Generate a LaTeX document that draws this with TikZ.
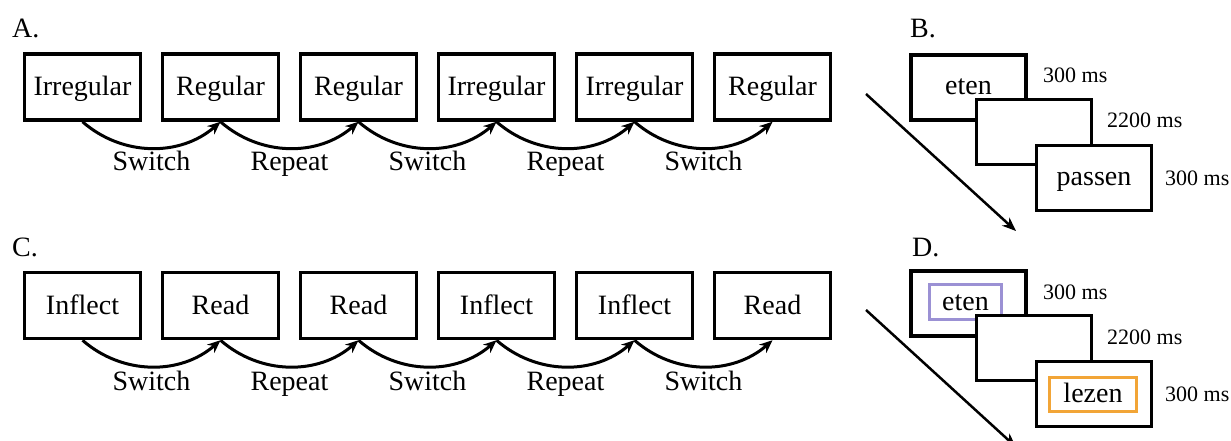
\documentclass[tikz,border=0pt]{standalone}
\usepackage{fontspec}
\setmainfont{Liberation Serif}
\usetikzlibrary{arrows.meta}
\definecolor{cuepurple}{RGB}{155,145,212}
\definecolor{cueorange}{RGB}{242,165,55}
\newcommand\bigfont{\fontsize{28}{34}\selectfont}
\newcommand\msfont{\fontsize{22}{26}\selectfont}
\begin{document}
\begin{tikzpicture}[x=1pt,y=-1pt,
  trial/.style={draw,line width=3.5pt,minimum width=116pt,minimum height=66pt,inner sep=0pt,text height=18pt,text depth=0pt,font=\bigfont},
  screen/.style={draw,fill=white,line width=3.5pt,minimum width=115pt,minimum height=65pt,inner sep=0pt,text height=14.5pt,text depth=0pt,font=\bigfont},
  cue/.style={draw,line width=3.5pt,inner sep=0pt,text height=16pt,text depth=0pt,font=\bigfont},
  trans/.style={anchor=base,inner sep=0pt,font=\bigfont},
  panel/.style={anchor=base west,inner sep=0pt,font=\bigfont},
  dur/.style={anchor=base west,inner sep=0pt,font=\msfont},
  arr/.style={line width=3pt,-{Stealth[length=13pt,width=11pt]}},
  timeline/.style={line width=2.5pt,-{Stealth[length=14pt,width=11pt]}}]
\useasboundingbox[fill=white] (0,0) rectangle (1231,441);

% Panel labels
\node[panel] (lA) at (12,38) {A.};
\node[panel] (lB) at (910,38) {B.};
\node[panel] (lC) at (12,256) {C.};
\node[panel] (lD) at (912,256) {D.};

% Row A
\node[trial] (a1) at (82.5,87) {Irregular};
\node[trial] (a2) at (220.5,87) {Regular};
\node[trial] (a3) at (358.5,87) {Regular};
\node[trial] (a4) at (496.5,87) {Irregular};
\node[trial] (a5) at (634.5,87) {Irregular};
\node[trial] (a6) at (772.5,87) {Regular};
\foreach \i/\j in {1/2,2/3,3/4,4/5,5/6}
  \draw[arr] (a\i.south) .. controls +(40,35) and +(-40,35) .. (a\j.south);
\node[trans] (ta1) at (151.5,171) {Switch};
\node[trans] (ta2) at (289.5,171) {Repeat};
\node[trans] (ta3) at (427.5,171) {Switch};
\node[trans] (ta4) at (565.5,171) {Repeat};
\node[trans] (ta5) at (703.5,171) {Switch};

% Row C
\node[trial] (c1) at (82.5,305.5) {Inflect};
\node[trial] (c2) at (220.5,305.5) {Read};
\node[trial] (c3) at (358.5,305.5) {Read};
\node[trial] (c4) at (496.5,305.5) {Inflect};
\node[trial] (c5) at (634.5,305.5) {Inflect};
\node[trial] (c6) at (772.5,305.5) {Read};
\foreach \i/\j in {1/2,2/3,3/4,4/5,5/6}
  \draw[arr] (c\i.south) .. controls +(40,35) and +(-40,35) .. (c\j.south);
\node[trans] (tc1) at (151.5,390) {Switch};
\node[trans] (tc2) at (289.5,390) {Repeat};
\node[trans] (tc3) at (427.5,390) {Switch};
\node[trans] (tc4) at (565.5,390) {Repeat};
\node[trans] (tc5) at (703.5,390) {Switch};

% Panel B
\coordinate (bs) at (866,94);
\coordinate (be) at (1016,231);
\draw[timeline] (bs) -- (be);
\node[screen] (b1) at (968.5,87.5) {eten};
\node[screen] (b2) at (1034,132) {};
\node[screen] (b3) at (1094,178) {passen};
\node[dur] (db1) at (1043,83) {300 ms};
\node[dur] (db2) at (1107,128) {2200 ms};
\node[dur] (db3) at (1165,185) {300 ms};

% Panel D
\coordinate (ds) at (866,310);
\coordinate (de) at (1016,447);
\draw[timeline] (ds) -- (de);
\node[screen] (d1) at (968.5,303.5) {};
\node[cue,draw=cuepurple,minimum width=72pt,minimum height=35pt] (p1) at (965.5,302) {eten};
\node[screen] (d2) at (1034,348) {};
\node[screen] (d3) at (1094,394) {};
\node[cue,draw=cueorange,minimum width=87pt,minimum height=34pt] (o1) at (1093,394.5) {lezen};
\node[dur] (dd1) at (1043,299) {300 ms};
\node[dur] (dd2) at (1107,344) {2200 ms};
\node[dur] (dd3) at (1165,401) {300 ms};
\end{tikzpicture}
\end{document}
